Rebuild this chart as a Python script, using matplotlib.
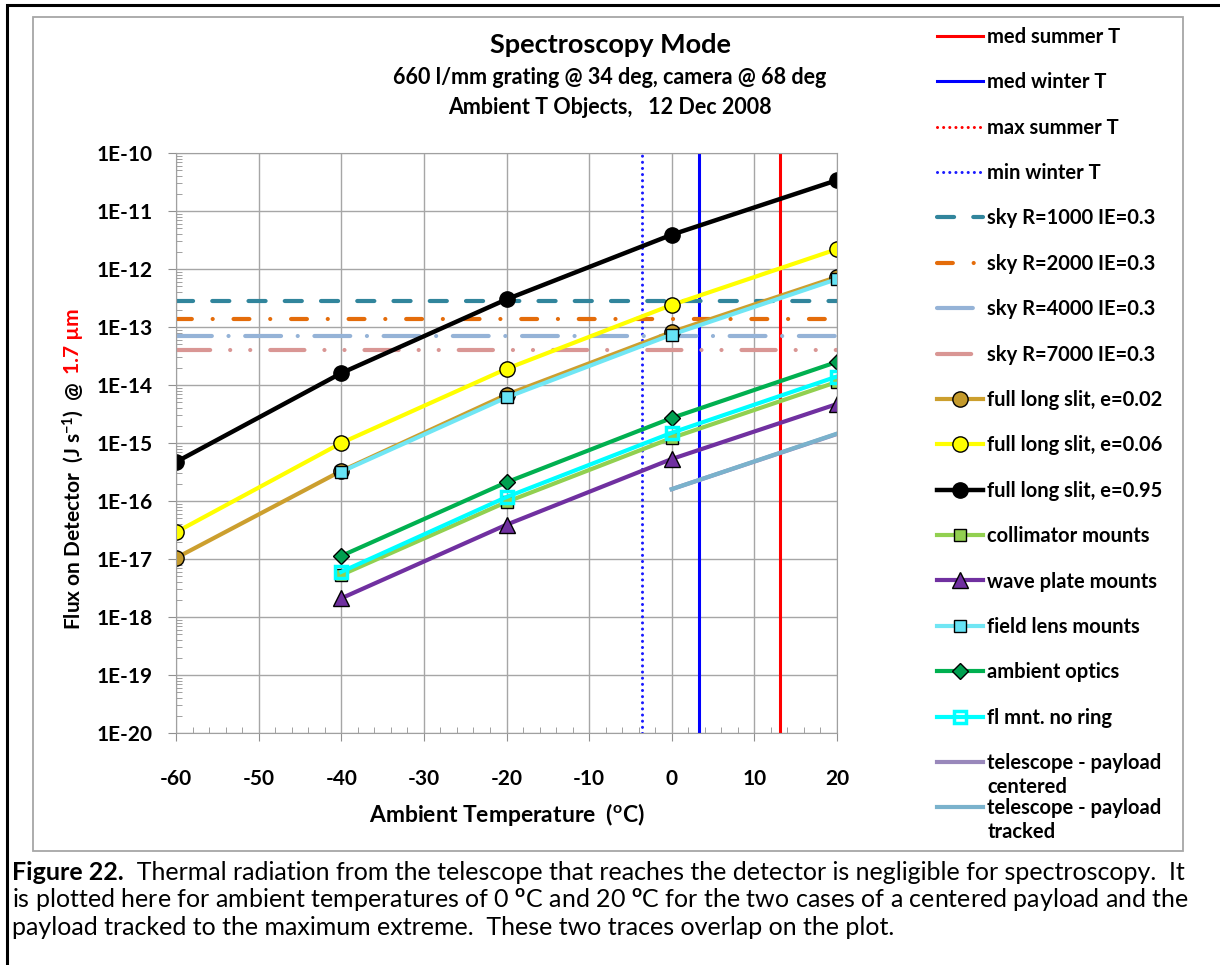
import numpy as np
import matplotlib
matplotlib.use('Agg')
import matplotlib.pyplot as plt
from matplotlib.ticker import MultipleLocator, LogLocator, FuncFormatter, NullFormatter
from matplotlib.patches import Rectangle

plt.rcParams['font.family'] = ['Lato', 'DejaVu Sans']
plt.rcParams['font.weight'] = 'bold'
plt.rcParams['axes.unicode_minus'] = False
plt.rcParams['mathtext.fontset'] = 'custom'
plt.rcParams['mathtext.rm'] = 'Lato'
plt.rcParams['mathtext.bf'] = 'Lato:bold'
plt.rcParams['mathtext.default'] = 'bf'

# ---- data ----
temps = [-60, -40, -20, 0, 20]
slit_002 = [1.04e-17, 3.3e-16, 6.8e-15, 8.2e-14, 7.3e-13]
slit_006 = [2.9e-17, 1.0e-15, 1.9e-14, 2.4e-13, 2.2e-12]
slit_095 = [4.7e-16, 1.6e-14, 3.0e-13, 3.9e-12, 3.4e-11]

mount_temps = [-40, -20, 0, 20]
collimator = [5.3e-18, 9.6e-17, 1.22e-15, 1.13e-14]
wave_plate = [2.1e-18, 3.9e-17, 5.3e-16, 4.7e-15]
field_lens = [3.2e-16, 6.1e-15, 7.4e-14, 6.7e-13]
ambient_optics = [1.13e-17, 2.1e-16, 2.7e-15, 2.5e-14]
fl_no_ring = [6.0e-18, 1.17e-16, 1.5e-15, 1.4e-14]

tel_temps = [0, 20]
tel_centered = [1.6e-16, 1.43e-15]
tel_tracked = [1.6e-16, 1.45e-15]

sky_temps = [-60, 20]
sky_1000 = 2.8e-13
sky_2000 = 1.35e-13
sky_4000 = 7.0e-14
sky_7000 = 4.0e-14

med_summer_T = 13.1
med_winter_T = 3.3
max_summer_T = 27.0   # off the right edge of the plot
min_winter_T = -3.6

W, H = 1220, 965
fig = plt.figure(figsize=(W / 100, H / 100), dpi=100)
ax = fig.add_axes([176 / W, 1 - 733 / H, 661 / W, 580 / H])

# outer frames
fig.patches.append(Rectangle((7 / W, -0.1), 1.2, 1.1 - 5 / H, transform=fig.transFigure,
                             fill=False, edgecolor='black', lw=2.2, zorder=-5))
fig.patches.append(Rectangle((33 / W, 1 - 851 / H), 1150 / W, 834 / H, transform=fig.transFigure,
                             fill=False, edgecolor='#a6a6a6', lw=1.3, zorder=-5))

# temperature markers
ax.axvline(med_summer_T, color='#ff0000', lw=2.2, label='med summer T')
ax.axvline(med_winter_T, color='#0000ff', lw=2.2, label='med winter T')
ax.axvline(max_summer_T, color='#ff0000', lw=2.2, dashes=(0.01, 2), dash_capstyle='round',
           label='max summer T')
ax.axvline(min_winter_T, color='#1a1aff', lw=2.2, dashes=(0.01, 2), dash_capstyle='round',
           label='min winter T')

# sky background levels
sky_lw = 3
ax.plot(sky_temps, [sky_1000] * 2, color='#31859c', lw=sky_lw, dashes=(4.1, 4.6),
        dash_capstyle='round', label='sky R=1000 IE=0.3')
ax.plot(sky_temps, [sky_2000] * 2, color='#e46c0a', lw=sky_lw, dashes=(3.8, 5.0, 0.01, 5.0),
        dash_capstyle='round', label='sky R=2000 IE=0.3')
ax.plot(sky_temps, [sky_4000] * 2, color='#95b3d7', lw=sky_lw, dashes=(8.6, 4.0, 0.01, 4.0),
        dash_capstyle='round', label='sky R=4000 IE=0.3')
ax.plot(sky_temps, [sky_7000] * 2, color='#d99694', lw=sky_lw,
        dashes=(8.2, 4.8, 0.01, 4.8, 0.01, 4.8),
        dash_capstyle='round', label='sky R=7000 IE=0.3')

# object series
ax.plot(temps, slit_002, color='#cc9f2e', lw=3, marker='o', ms=11, mfc='#c49a2c', mec='black',
        mew=1, label='full long slit, e=0.02')
ax.plot(temps, slit_006, color='#ffff00', lw=3, marker='o', ms=11, mfc='#ffff00', mec='black',
        mew=1, label='full long slit, e=0.06')
ax.plot(temps, slit_095, color='black', lw=3.2, marker='o', ms=11, mfc='black', mec='black',
        label='full long slit, e=0.95')
ax.plot(mount_temps, collimator, color='#92d050', lw=3, marker='s', ms=8.5, mfc='#92d050',
        mec='black', mew=1, label='collimator mounts')
ax.plot(mount_temps, wave_plate, color='#7030a0', lw=3, marker='^', ms=11, mfc='#7030a0',
        mec='black', mew=1, label='wave plate mounts')
ax.plot(mount_temps, field_lens, color='#70e6f4', lw=3, marker='s', ms=8.5, mfc='#66e3f5',
        mec='black', mew=1, label='field lens mounts')
ax.plot(mount_temps, ambient_optics, color='#00b050', lw=3, marker='D', ms=8, mfc='#00a050',
        mec='black', mew=1, label='ambient optics')
ax.plot(mount_temps, fl_no_ring, color='#00ffff', lw=3, marker='s', ms=8.5, mfc='none',
        mec='#00ffff', mew=2.5, label='fl mnt. no ring')
ax.plot(tel_temps, tel_centered, color='#9988bb', lw=3, label='telescope - payload')
ax.plot(tel_temps, tel_tracked, color='#7ab2cc', lw=3, label='telescope - payload')

# axes styling
ax.set_xlim(-60, 20)
ax.set_yscale('log')
ax.set_ylim(1e-20, 1e-10)
ax.set_xticks(range(-60, 21, 10))
ax.xaxis.set_minor_locator(MultipleLocator(2))
ax.yaxis.set_major_locator(LogLocator(base=10, numticks=20))
ax.yaxis.set_minor_locator(LogLocator(base=10, subs=np.arange(2, 10), numticks=20))
ax.yaxis.set_minor_formatter(NullFormatter())
ax.yaxis.set_major_formatter(FuncFormatter(lambda v, p: '1E%d' % int(round(np.log10(v)))))
ax.grid(True, which='major', color='#a6a6a6', lw=1)
ax.set_axisbelow(True)
for s in ax.spines.values():
    s.set_color('#a0a0a0')
ax.tick_params(which='major', direction='out', length=6, color='#909090', labelsize=15)
ax.tick_params(axis='y', which='major', pad=11)
ax.tick_params(axis='x', which='major', pad=20)
ax.tick_params(which='minor', direction='in', length=4, color='#909090')

# titles
fig.text(610 / W, 1 - 45 / H, 'Spectroscopy Mode', ha='center', va='center', fontsize=19.5)
fig.text(610 / W, 1 - 77 / H, '660 l/mm grating @ 34 deg, camera @ 68 deg', ha='center',
         va='center', fontsize=15.5)
fig.text(610 / W, 1 - 107 / H, 'Ambient T Objects,   12 Dec 2008', ha='center', va='center',
         fontsize=15.5)

fig.text(507 / W, 1 - 815 / H, 'Ambient Temperature  ($^{o}$C)', ha='center', va='center',
         fontsize=16.5)

ylab = fig.text(73 / W, 1 - 630 / H, 'Flux on Detector  (J s$^{-1}$)  @', rotation=90,
                ha='center', va='bottom', fontsize=15)
ax.annotate('1.7 \u00b5m', xy=(0.5, 1.0), xycoords=ylab, xytext=(0, 5),
            textcoords='offset points', rotation=90, ha='center', va='bottom',
            color='#ff0000', fontsize=15)

# legend
leg = fig.legend(loc='upper left', bbox_to_anchor=(937 / W, 1 - 27 / H), frameon=False,
                 fontsize=14.5, borderpad=0, handlelength=2.3, handletextpad=0.2,
                 labelspacing=1.26, borderaxespad=0)
fig.canvas.draw()
texts = leg.get_texts()
for t, extra in ((texts[-2], 'centered'), (texts[-1], 'tracked')):
    bb = t.get_window_extent()
    fig.text(bb.x0 / W, (bb.y0 - 4) / H, extra, ha='left', va='top', fontsize=14.5)

# caption
cap = fig.text(12 / W, 1 - 880 / H, 'Figure 22.', ha='left', va='baseline', fontsize=18)
ax.annotate('  Thermal radiation from the telescope that reaches the detector is negligible '
            'for spectroscopy.  It', xy=(1, 0), xycoords=cap, ha='left', va='bottom',
            fontsize=18, fontweight='normal')
fig.text(12 / W, 1 - 907 / H, 'is plotted here for ambient temperatures of 0 $^{\\mathrm{o}}$C '
         'and 20 $^{\\mathrm{o}}$C for the two cases of a centered payload and the',
         ha='left', va='baseline', fontsize=18, fontweight='normal')
fig.text(12 / W, 1 - 935 / H, 'payload tracked to the maximum extreme.  These two traces '
         'overlap on the plot.', ha='left', va='baseline', fontsize=18, fontweight='normal')

fig.savefig('out.png', dpi=100)
